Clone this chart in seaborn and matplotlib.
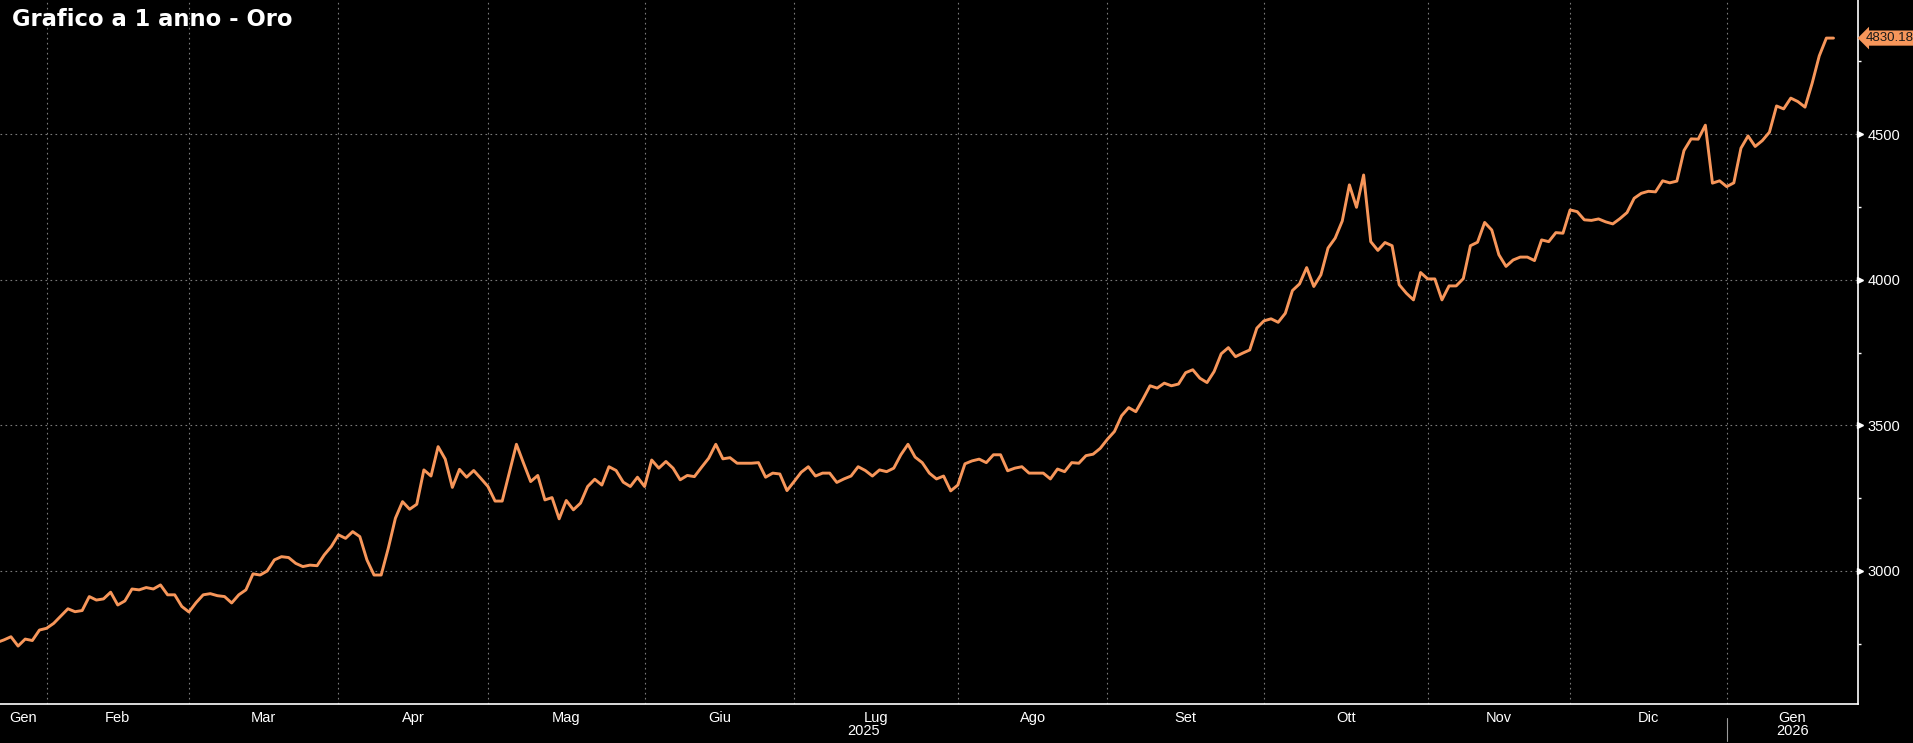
import pandas as pd
import matplotlib
matplotlib.use('Agg')
import matplotlib.pyplot as plt
import matplotlib.transforms as mtransforms
import seaborn as sns

# Prezzo spot dell'oro, un valore per giorno di contrattazione
start_date = '2025-01-23'
end_date = '2026-01-23'
holidays = ['2025-04-18', '2025-12-25', '2026-01-01']

gold_price = [
    2754, 2763, 2774, 2742, 2766, 2761, 2797, 2803, 2820, 2845,
    2870, 2860, 2864, 2912, 2900, 2904, 2927, 2883, 2897, 2938,
    2935, 2943, 2938, 2952, 2918, 2918, 2878, 2859, 2891, 2918,
    2922, 2915, 2912, 2890, 2918, 2935, 2990, 2986, 3000, 3038,
    3049, 3046, 3026, 3015, 3020, 3018, 3055, 3084, 3124, 3112,
    3135, 3118, 3038, 2986, 2986, 3078, 3181, 3238, 3212, 3229,
    3347, 3326, 3427, 3384, 3287, 3349, 3322, 3345, 3318, 3290,
    3240, 3240, 3338, 3435, 3370, 3307, 3328, 3244, 3252, 3179,
    3242, 3210, 3233, 3290, 3315, 3295, 3358, 3345, 3305, 3290,
    3322, 3290, 3381, 3353, 3376, 3353, 3313, 3328, 3324, 3356,
    3387, 3435, 3385, 3389, 3370, 3370, 3370, 3372, 3322, 3336,
    3333, 3276, 3307, 3339, 3358, 3326, 3336, 3336, 3304, 3316,
    3326, 3358, 3345, 3326, 3347, 3341, 3353, 3399, 3435, 3391,
    3372, 3336, 3316, 3326, 3275, 3295, 3368, 3378, 3384, 3372,
    3399, 3399, 3344, 3353, 3358, 3336, 3336, 3336, 3316, 3350,
    3341, 3372, 3370, 3396, 3401, 3421, 3452, 3479, 3533, 3561,
    3547, 3590, 3636, 3628, 3645, 3636, 3642, 3681, 3691, 3662,
    3647, 3685, 3746, 3767, 3736, 3748, 3759, 3834, 3859, 3866,
    3854, 3885, 3963, 3986, 4042, 3977, 4017, 4109, 4143, 4202,
    4326, 4249, 4360, 4131, 4101, 4128, 4117, 3983, 3954, 3931,
    4025, 4003, 4003, 3931, 3979, 3979, 4004, 4117, 4129, 4197,
    4171, 4086, 4046, 4068, 4078, 4078, 4066, 4137, 4131, 4162,
    4160, 4240, 4234, 4206, 4204, 4209, 4199, 4192, 4210, 4231,
    4280, 4297, 4304, 4302, 4340, 4333, 4339, 4444, 4484, 4483,
    4531, 4332, 4340, 4320, 4333, 4452, 4494, 4458, 4478, 4507,
    4597, 4587, 4624, 4612, 4593, 4675, 4769, 4830.18, 4830.18,
]

month_names = ['Gen', 'Feb', 'Mar', 'Apr', 'Mag', 'Giu', 'Lug',
               'Ago', 'Set', 'Ott', 'Nov', 'Dic']
y_major = [3000, 3500, 4000, 4500]
y_minor = [2750, 3250, 3750, 4250, 4750]
title = 'Grafico a 1 anno - Oro'
last_label = '4830.18'

ORANGE = '#F7965A'
GRID = '#7a7a7a'

dates = pd.bdate_range(start_date, end_date, freq='C', holidays=holidays)
assert len(dates) == len(gold_price), (len(dates), len(gold_price))
df = pd.DataFrame({'pos': range(len(dates)), 'date': dates, 'price': gold_price})

sns.set_theme(style='dark', rc={
    'figure.facecolor': 'black',
    'axes.facecolor': 'black',
    'text.color': 'white',
    'xtick.color': 'white',
    'ytick.color': 'white',
})
plt.rcParams['font.family'] = ['Liberation Sans Narrow', 'Liberation Sans', 'DejaVu Sans']

W, H = 1913, 743
fig = plt.figure(figsize=(W / 100, H / 100), dpi=100)
ax = fig.add_axes([0, 1 - 704 / H, 1857.7 / W, 704 / H])

sns.lineplot(data=df, x='pos', y='price', ax=ax, color=ORANGE, linewidth=2.1)

x_left, x_right = 0.46, 261.4
ax.set_xlim(x_left, x_right)
ax.set_ylim(2543, 4961)

# confini dei mesi = primo giorno di contrattazione del mese
month_key = df['date'].dt.to_period('M')
starts = df.groupby(month_key)['pos'].min().tolist()
bounds = [x_left] + starts[1:] + [x_right]
mids = [(a + b) / 2 for a, b in zip(bounds[:-1], bounds[1:])]
labels = [month_names[p.month - 1] for p in month_key.unique()]

ax.set_xticks(starts[1:])
ax.set_xticklabels([])
ax.set_xticks(mids, minor=True)
ax.set_xticklabels(labels, minor=True, fontsize=10.5)
ax.tick_params(axis='x', which='major', length=5, width=1, color='white', direction='out')
ax.tick_params(axis='x', which='minor', length=0, pad=5)

ax.yaxis.tick_right()
ax.set_yticks(y_major)
ax.set_yticklabels([str(v) for v in y_major], fontsize=10.5)
ax.set_yticks(y_minor, minor=True)
ax.tick_params(axis='y', which='major', length=0, pad=7)
ax.tick_params(axis='y', which='minor', length=2.5, width=1, color='white', direction='out')

ax.set_xlabel('')
ax.set_ylabel('')
ax.grid(True, which='major', color=GRID, linestyle=(0, (1.5, 3)), linewidth=0.8)
ax.grid(False, which='minor')

for side in ['top', 'left']:
    ax.spines[side].set_visible(False)
for side in ['right', 'bottom']:
    ax.spines[side].set_visible(True)
    ax.spines[side].set_color('white')
    ax.spines[side].set_linewidth(1.2)

# triangolini sulle etichette dell'asse y
ytrans = mtransforms.blended_transform_factory(ax.transAxes, ax.transData)
tri_off = mtransforms.offset_copy(ytrans, fig=fig, x=2.5, y=0, units='dots')
ax.plot([1.0] * len(y_major), y_major, linestyle='none', marker='>',
        markersize=5, color='white', transform=tri_off, clip_on=False)

# etichette anni
xtrans = mtransforms.blended_transform_factory(ax.transData, ax.transAxes)
n2025 = starts[-1]
ax.text((x_left + n2025) / 2, -0.038, '2025', transform=xtrans, ha='center',
        va='center', fontsize=10.5, color='white')
ax.text((n2025 + x_right) / 2, -0.038, '2026', transform=xtrans, ha='center',
        va='center', fontsize=10.5, color='white')
ax.plot([n2025, n2025], [-0.02, -0.052], transform=xtrans, color='#9a9a9a',
        linewidth=0.8, clip_on=False)

# ultimo valore
lab_off = mtransforms.offset_copy(ytrans, fig=fig, x=8, y=0, units='dots')
ax.text(1.0, gold_price[-1], last_label, transform=lab_off, ha='left', va='center',
        fontsize=9.5, color='#1a1a1a',
        bbox=dict(boxstyle='larrow,pad=0.12', fc=ORANGE, ec='none'))

fig.text(12 / W, 1 - 20 / H, title, fontsize=16.3, fontweight='bold',
         color='white', va='center', ha='left', family='DejaVu Sans')

fig.savefig('out.png', dpi=100, facecolor='black')
